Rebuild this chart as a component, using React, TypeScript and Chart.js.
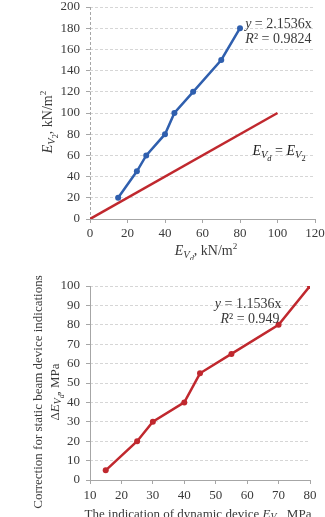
import React, { useEffect, useRef } from "react";
import { Chart, registerables } from "chart.js";
Chart.register(...registerables);

// ---- data ----
const topX = [15, 25, 30, 40, 45, 55, 70, 80];
const topY = [20, 45, 60, 80, 100, 120, 150, 180];
const eqX = [0, 100];
const eqY = [0, 100];
const botX = [15, 25, 30, 40, 45, 55, 70, 80];
const botY = [5, 20, 30, 40, 55, 65, 80, 100];
const topEq = ["y = 2.1536x", "R² = 0.9824"];
const botEq = ["y = 1.1536x", "R² = 0.949"];

const SERIF = '"Liberation Serif", "DejaVu Serif", serif';
const TXT = "#3a3a3a";
const BLUE = "#2f5fae";
const RED = "#c0282e";
const GRID = "#d6d6d6";
const AXIS = "#a6a6a6";

type Seg = { t: string; it?: boolean; sub?: number; sup?: boolean };

function segSize(s: Seg, size: number) {
  if (s.sub === 1) return size * 0.75;
  if (s.sub === 2) return size * 0.6;
  if (s.sup) return size * 0.65;
  return size;
}
function segFont(s: Seg, size: number) {
  return `${s.it ? "italic " : ""}${segSize(s, size)}px ${SERIF}`;
}
function segDy(s: Seg, size: number) {
  if (s.sub === 1) return size * 0.22;
  if (s.sub === 2) return size * 0.4;
  if (s.sup) return -size * 0.4;
  return 0;
}
function drawRich(
  ctx: CanvasRenderingContext2D,
  segs: Seg[],
  x: number,
  y: number,
  size: number,
  color: string,
  rot = 0
) {
  ctx.save();
  ctx.translate(x, y);
  ctx.rotate(rot);
  ctx.fillStyle = color;
  ctx.textAlign = "left";
  ctx.textBaseline = "alphabetic";
  const ws = segs.map((s) => {
    ctx.font = segFont(s, size);
    return ctx.measureText(s.t).width;
  });
  const total = ws.reduce((a, b) => a + b, 0);
  let cx = -total / 2;
  const base = size * 0.35;
  segs.forEach((s, i) => {
    ctx.font = segFont(s, size);
    ctx.fillText(s.t, cx, base + segDy(s, size));
    cx += ws[i];
  });
  ctx.restore();
}

type Area = { left: number; right: number; top: number; bottom: number };

function scaleOpts(
  min: number,
  max: number,
  step: number,
  isX: boolean,
  area: Area,
  W: number,
  H: number,
  pad: number
) {
  return {
    type: "linear" as const,
    min,
    max,
    ticks: {
      stepSize: step,
      color: TXT,
      font: { family: SERIF, size: 13 },
      padding: pad,
      maxRotation: 0,
      autoSkip: false,
    },
    grid: {
      display: true,
      drawOnChartArea: !isX,
      drawTicks: true,
      tickLength: 4,
      color: GRID,
      tickColor: AXIS,
      lineWidth: 1,
    },
    border: { display: false, dash: isX ? [] : [3, 2] },
    afterFit: (s: any) => {
      if (isX) s.height = H - area.bottom;
      else s.width = area.left;
      s.paddingLeft = 0;
      s.paddingRight = 0;
      s.paddingTop = 0;
      s.paddingBottom = 0;
    },
  };
}

type Cfg = {
  W: number;
  H: number;
  area: Area;
  datasets: any[];
  x: [number, number, number];
  y: [number, number, number];
  xPad: number;
  yAxisDash: number[];
  draw: (chart: any) => void;
};

function ChartBox({ cfg, top }: { cfg: Cfg; top: number }) {
  const ref = useRef<HTMLCanvasElement>(null);
  useEffect(() => {
    if (!ref.current) return;
    const { W, H, area } = cfg;
    const axisPlugin = {
      id: "axes",
      beforeDatasetsDraw(chart: any) {
        const { ctx, chartArea: ca } = chart;
        ctx.save();
        ctx.strokeStyle = AXIS;
        ctx.lineWidth = 1;
        ctx.setLineDash([]);
        ctx.beginPath();
        ctx.moveTo(ca.left, Math.round(ca.bottom) + 0.5);
        ctx.lineTo(ca.right, Math.round(ca.bottom) + 0.5);
        ctx.stroke();
        ctx.setLineDash(cfg.yAxisDash);
        ctx.beginPath();
        ctx.moveTo(Math.round(ca.left) + 0.5, ca.top);
        ctx.lineTo(Math.round(ca.left) + 0.5, ca.bottom);
        ctx.stroke();
        ctx.restore();
      },
      afterDraw(chart: any) {
        cfg.draw(chart);
      },
    };
    const chart = new Chart(ref.current, {
      type: "line",
      data: { datasets: cfg.datasets },
      options: {
        responsive: false,
        animation: false,
        devicePixelRatio: 1,
        layout: {
          padding: { left: 0, top: area.top, right: W - area.right, bottom: 0 },
        },
        plugins: { legend: { display: false }, tooltip: { enabled: false } },
        scales: {
          x: scaleOpts(cfg.x[0], cfg.x[1], cfg.x[2], true, area, W, H, cfg.xPad),
          y: scaleOpts(cfg.y[0], cfg.y[1], cfg.y[2], false, area, W, H, 6),
        },
      } as any,
      plugins: [axisPlugin],
    });
    return () => chart.destroy();
  }, [cfg]);
  return (
    <canvas
      ref={ref}
      width={cfg.W}
      height={cfg.H}
      style={{ position: "absolute", left: 0, top, width: cfg.W, height: cfg.H, display: "block" }}
    />
  );
}

const topCfg: Cfg = {
  W: 325,
  H: 260,
  area: { left: 90, right: 315, top: 7, bottom: 219 },
  x: [0, 120, 20],
  y: [0, 200, 20],
  xPad: 3,
  yAxisDash: [3, 2],
  datasets: [
    {
      data: topX.map((x, i) => ({ x, y: topY[i] })),
      borderColor: BLUE,
      backgroundColor: BLUE,
      borderWidth: 2.5,
      pointRadius: 3,
      pointBorderWidth: 0,
      tension: 0,
    },
    {
      data: eqX.map((x, i) => ({ x, y: eqY[i] })),
      borderColor: RED,
      backgroundColor: RED,
      borderWidth: 2.5,
      pointRadius: 0,
      tension: 0,
    },
  ],
  draw(chart: any) {
    const ctx = chart.ctx as CanvasRenderingContext2D;
    const xs = chart.scales.x;
    const ys = chart.scales.y;
    const ax = xs.getPixelForValue(100.5);
    drawRich(ctx, [{ t: "y", it: true }, { t: topEq[0].slice(1) }], ax, ys.getPixelForValue(185), 14, TXT);
    drawRich(ctx, [{ t: "R", it: true }, { t: topEq[1].slice(1) }], ax, ys.getPixelForValue(171), 14, TXT);
    drawRich(
      ctx,
      [
        { t: "E", it: true },
        { t: "V", it: true, sub: 1 },
        { t: "d", it: true, sub: 2 },
        { t: " = " },
        { t: "E", it: true },
        { t: "V", it: true, sub: 1 },
        { t: "2", sub: 2 },
      ],
      xs.getPixelForValue(100.8),
      ys.getPixelForValue(65),
      14,
      "#222"
    );
    // axis titles
    drawRich(
      ctx,
      [
        { t: "E", it: true },
        { t: "V", it: true, sub: 1 },
        { t: "d", it: true, sub: 2 },
        { t: ", kN/m" },
        { t: "2", sup: true },
      ],
      206,
      250,
      14,
      TXT
    );
    drawRich(
      ctx,
      [
        { t: "E", it: true },
        { t: "V", it: true, sub: 1 },
        { t: "2", sub: 2 },
        { t: ", kN/m" },
        { t: "2", sup: true },
      ],
      47,
      122,
      14,
      TXT,
      -Math.PI / 2
    );
  },
};

const botCfg: Cfg = {
  W: 325,
  H: 257,
  area: { left: 90, right: 310, top: 26, bottom: 220 },
  x: [10, 80, 10],
  y: [0, 100, 10],
  xPad: 4,
  yAxisDash: [],
  datasets: [
    {
      data: botX.map((x, i) => ({ x, y: botY[i] })),
      borderColor: RED,
      backgroundColor: RED,
      borderWidth: 2.5,
      pointRadius: 3,
      pointBorderWidth: 0,
      tension: 0,
    },
  ],
  draw(chart: any) {
    const ctx = chart.ctx as CanvasRenderingContext2D;
    const xs = chart.scales.x;
    const ys = chart.scales.y;
    drawRich(ctx, [{ t: "y", it: true }, { t: botEq[0].slice(1) }], xs.getPixelForValue(60.3), ys.getPixelForValue(91.2), 14, TXT);
    drawRich(ctx, [{ t: "R", it: true }, { t: botEq[1].slice(1) }], xs.getPixelForValue(60.9), ys.getPixelForValue(83.5), 14, TXT);
    drawRich(
      ctx,
      [
        { t: "The indication of dynamic device " },
        { t: "E", it: true },
        { t: "V", it: true, sub: 1 },
        { t: "d", it: true, sub: 2 },
        { t: ", MPa" },
      ],
      198,
      253,
      13,
      TXT
    );
    drawRich(ctx, [{ t: "Correction for static beam device indications" }], 37, 132, 13, TXT, -Math.PI / 2);
    drawRich(
      ctx,
      [
        { t: "Δ" },
        { t: "E", it: true },
        { t: "V", it: true, sub: 1 },
        { t: "d", it: true, sub: 2 },
        { t: ", MPa" },
      ],
      54,
      132,
      13,
      TXT,
      -Math.PI / 2
    );
  },
};

export default function App() {
  return (
    <div style={{ position: "absolute", left: 0, top: 0, width: 325, height: 517, overflow: "hidden", background: "#fff" }}>
      <ChartBox cfg={topCfg} top={0} />
      <ChartBox cfg={botCfg} top={260} />
    </div>
  );
}
